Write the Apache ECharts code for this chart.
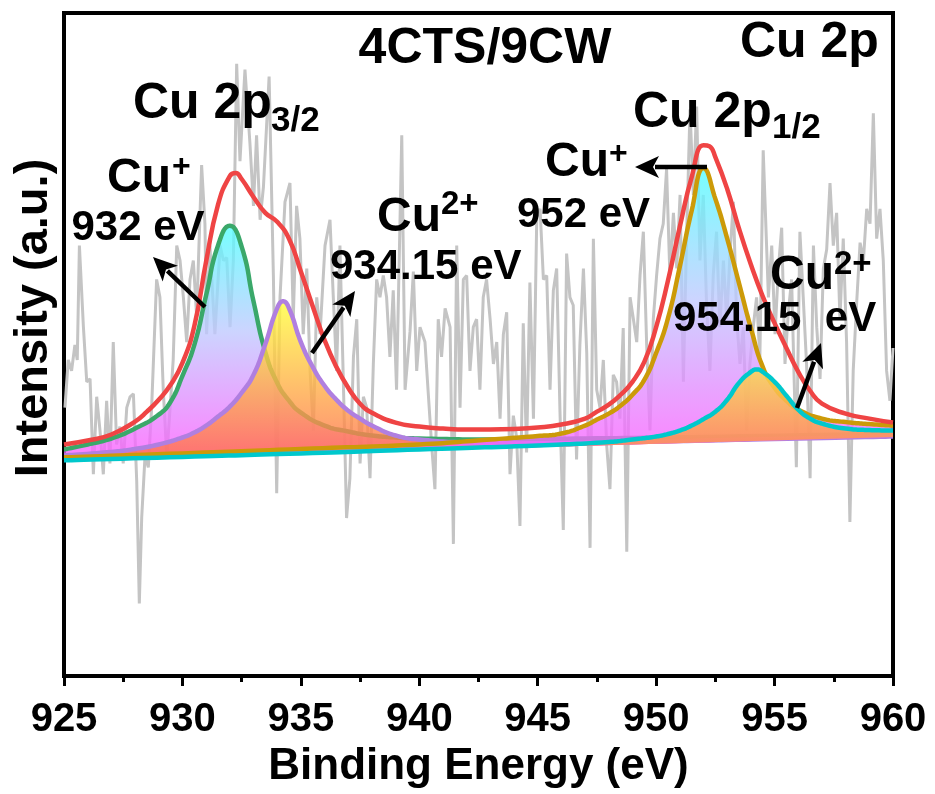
<!DOCTYPE html>
<html>
<head>
<meta charset="utf-8">
<script src="https://cdn.jsdelivr.net/npm/echarts@6/dist/echarts.min.js"></script>
<style>
html,body{margin:0;padding:0;background:#fff;}
#chart{width:935px;height:794px;}
</style>
</head>
<body>
<div id="chart"></div>
<script>
// ---------------- DATA ----------------
// Raw spectrum (grey, noisy)
const rawEnergy = [925.04,925.18,925.32,925.46,925.56,925.65,925.82,925.96,926.10,926.24,926.38,926.52,926.66,926.80,926.94,927.08,927.22,927.36,927.50,927.65,927.79,927.93,928.07,928.18,928.28,928.42,928.56,928.70,928.91,929.05,929.19,929.34,929.48,929.61,929.76,929.90,930.04,930.18,930.32,930.46,930.60,930.81,930.95,931.02,931.16,931.37,931.59,931.73,931.87,932.01,932.15,932.29,932.43,932.64,932.85,933.00,933.13,933.28,933.42,933.66,933.84,933.98,934.12,934.33,934.54,934.68,934.82,934.96,935.10,935.25,935.39,935.53,935.67,935.81,936.02,936.23,936.37,936.51,936.65,936.79,936.93,937.07,937.22,937.36,937.50,937.64,937.78,937.92,938.06,938.20,938.34,938.48,938.62,938.76,938.90,939.04,939.26,939.40,939.61,939.75,939.89,940.03,940.24,940.38,940.52,940.66,940.80,940.94,941.09,941.30,941.44,941.58,941.72,941.86,942.00,942.14,942.28,942.42,942.56,942.70,942.84,942.99,943.13,943.27,943.41,943.55,943.69,943.83,943.97,944.11,944.25,944.39,944.53,944.67,944.82,944.96,945.10,945.24,945.38,945.52,945.66,945.80,945.94,946.08,946.22,946.36,946.50,946.64,946.78,946.93,947.07,947.21,947.35,947.49,947.63,947.77,947.91,948.05,948.19,948.33,948.47,948.61,948.76,948.90,949.04,949.18,949.32,949.46,949.60,949.74,949.88,950.02,950.16,950.30,950.44,950.58,950.73,950.87,951.01,951.15,951.29,951.43,951.57,951.71,951.85,951.99,952.13,952.27,952.41,952.55,952.69,952.84,952.98,953.12,953.26,953.40,953.54,953.68,953.82,953.96,954.10,954.24,954.38,954.52,954.74,954.88,955.02,955.16,955.30,955.44,955.58,955.72,955.92,956.07,956.21,956.35,956.50,956.64,956.78,956.92,957.06,957.20,957.34,957.48,957.62,957.76,957.90,958.04,958.18,958.32,958.46,958.61,958.75,958.89,959.03,959.17,959.31,959.45,959.59,959.73,959.87,960.00];
const rawIntensity = [270,318,307,333,318,433,351,296,299,203,281,247,203,277,214,336,233,251,214,270,281,284,196,73,159,221,210,270,399,381,288,221,270,318,433,418,381,336,399,418,362,514,455,344,433,344,433,418,421,351,418,616,518,610,536,473,544,459,492,603,403,184,381,477,496,359,473,440,344,410,307,247,381,344,433,459,381,307,433,300,159,199,321,359,214,281,270,199,314,399,381,403,381,321,388,288,544,288,347,407,307,351,336,284,233,188,359,321,370,351,133,433,270,399,403,307,351,359,288,381,399,359,314,336,259,344,366,203,262,240,151,355,225,396,259,462,470,399,403,288,388,410,266,147,425,381,373,218,333,410,325,129,440,288,270,318,233,188,303,296,259,350,125,381,359,336,403,447,333,247,359,403,440,455,510,403,466,410,484,296,447,570,484,573,418,484,373,307,403,447,351,418,359,425,477,359,314,351,247,314,351,381,321,529,381,433,344,410,451,314,366,399,210,447,381,314,199,433,351,299,410,429,496,433,466,359,440,336,155,307,373,436,418,470,455,566,440,470,418,307,277,330];

// Cu+ 2p3/2 component (932 eV, green)
const cu1Energy = [925,926,927,928,929,929.5,930,930.5,931,931.5,932,932.5,933,933.5,934,934.5,935,936,937,938,939,940,943,947,952,960];
const cu1Fit    = [228,233,239,249,263,276,302,333,383,433,453,432,377,326,295,277,265,252,246,242,240,239,238,239,240.5,244];

// Cu2+ 2p3/2 component (934.15 eV, purple)
const cu2Energy = [925,927,928,929,930,930.5,931,931.5,932,932.5,933,933.5,934,934.25,934.5,935,935.5,936,936.5,937,937.5,938,939,940,942,945,950,955,960];
const cu2Fit    = [222,225.5,228.5,233,240,245,252,261,271,285,303,334,370,377,370,336,311,292,278,267,259,252,242,238,235,234,236,238.5,241];

// Cu+ 2p1/2 component (952 eV, gold)
const cu3Energy = [925,930,935,940,943,945,946,947,947.5,948,948.5,949,949.5,950,950.5,951,951.5,952,952.5,953,953.5,954,954.5,955,955.5,956,957,958,959,960];
const cu3Fit    = [220,224,228.5,233,238,241.5,244,252,258,264,272,283,298,325,360,412,468,511,480,440,395,350,311,290,277,268,259,255.5,253.5,252];

// Cu2+ 2p1/2 component (954.15 eV, cyan)
const cu4Energy = [925,930,935,940,945,948,949,950,950.5,951,951.5,952,952.5,953,953.5,954,954.25,954.5,955,955.5,956,956.5,957,958,959,960];
const cu4Fit    = [217,220.5,224,228,232,235.5,238,241,243.5,247,252,258.5,266,278,295,306,308.5,306,296,282,268,259,254,249,247.5,247];

// Envelope (sum of fit, red)
const envEnergy = [925,926,927,928,928.5,929,929.5,930,930.5,931,931.5,932,932.25,932.5,933,933.5,934,934.5,935,935.5,936,936.5,937,937.5,938,939,940,941,942,943,944,945,946,947,947.5,948,948.5,949,949.5,950,950.5,951,951.5,952,952.25,952.5,953,953.5,954,954.5,955,955.5,956,956.5,957,958,959,960];
const envFit    = [233,237,243,256,266,278,293,315,352,417,474,503,506,500,482,466,457,440,407,372,338,311,290,274,265,255,251,249,248,248,248.5,250,253,259,266,273,283,296,316,351,398,452,502,534,533,522,490,450,414,382,355,330,306,287,274,264,259,255];

// Linear background used as the lower edge of the filled components
const bgEnergy = [925, 960];
const bgFit    = [216.5, 240.5];

// Axis
const xMin = 925, xMax = 960, xStep = 5;

// ---------------- CHART ----------------
const FONT = "'Liberation Sans', Arial, Helvetica, sans-serif";
const chart = echarts.init(document.getElementById('chart'), null, {renderer: 'canvas'});

function zip(a, b) { return a.map((v, i) => [v, b[i]]); }

// same smoothing rule as ECharts line series (smooth = 0.5)
function smoothPts(p, s) {
  const n = p.length;
  const out = [p[0].slice()];
  let cpx0 = p[0][0], cpy0 = p[0][1];
  for (let k = 1; k < n; k++) {
    const x = p[k][0], y = p[k][1];
    const prevX = p[k-1][0], prevY = p[k-1][1];
    let cpx1, cpy1, nextCpx0, nextCpy0;
    if (k === n - 1) {
      cpx1 = x; cpy1 = y; nextCpx0 = x; nextCpy0 = y;
    } else {
      const nextX = p[k+1][0], nextY = p[k+1][1];
      let vx = nextX - prevX, vy = nextY - prevY;
      const dx0 = x - prevX, dy0 = y - prevY, dx1 = nextX - x, dy1 = nextY - y;
      const l0 = Math.sqrt(dx0*dx0 + dy0*dy0), l1 = Math.sqrt(dx1*dx1 + dy1*dy1);
      const r = l1 / (l1 + l0);
      nextCpx0 = x + vx * s * r; nextCpy0 = y + vy * s * r;
      nextCpx0 = Math.min(nextCpx0, Math.max(nextX, x)); nextCpy0 = Math.min(nextCpy0, Math.max(nextY, y));
      nextCpx0 = Math.max(nextCpx0, Math.min(nextX, x)); nextCpy0 = Math.max(nextCpy0, Math.min(nextY, y));
      vx = nextCpx0 - x; vy = nextCpy0 - y;
      cpx1 = x - vx * l0 / l1; cpy1 = y - vy * l0 / l1;
      cpx1 = Math.min(cpx1, Math.max(prevX, x)); cpy1 = Math.min(cpy1, Math.max(prevY, y));
      cpx1 = Math.max(cpx1, Math.min(prevX, x)); cpy1 = Math.max(cpy1, Math.min(prevY, y));
      vx = x - cpx1; vy = y - cpy1;
      nextCpx0 = x + vx * l1 / l0; nextCpy0 = y + vy * l1 / l0;
    }
    const ax = prevX, ay = prevY;
    for (let j = 1; j <= 14; j++) {
      const t = j / 14, u = 1 - t;
      out.push([
        u*u*u*ax + 3*u*u*t*cpx0 + 3*u*t*t*cpx1 + t*t*t*x,
        u*u*u*ay + 3*u*u*t*cpy0 + 3*u*t*t*cpy1 + t*t*t*y
      ]);
    }
    cpx0 = nextCpx0; cpy0 = nextCpy0;
  }
  return out;
}

function component(name, xs, ys, stroke, stops, z) {
  const pts = zip(xs, ys);
  return {
    type: 'custom', name: name, z: z, silent: true, clip: true,
    data: pts, encode: {x: 0, y: 1},
    renderItem: function (params, api) {
      if (params.dataIndex !== 0) return null;
      const px = pts.map(p => api.coord(p));
      const curve = smoothPts(px, 0.5);
      const b0 = api.coord([bgEnergy[0], bgFit[0]]);
      const b1 = api.coord([bgEnergy[1], bgFit[1]]);
      return {
        type: 'group',
        children: [
          {type: 'polygon', shape: {points: curve.concat([b1, b0])},
           style: {fill: new echarts.graphic.LinearGradient(0, 0, 0, 1, stops), stroke: null}},
          {type: 'polyline', shape: {points: curve},
           style: {stroke: stroke, lineWidth: 4.5, fill: null, lineJoin: 'round', lineCap: 'round'}}
        ]
      };
    }
  };
}

const blueMagenta = [
  {offset: 0, color: 'rgba(80,255,255,0.78)'},
  {offset: 0.45, color: 'rgba(190,200,255,0.78)'},
  {offset: 1, color: 'rgba(255,90,255,0.78)'}
];
const yellowOrange = [
  {offset: 0, color: 'rgba(255,255,60,0.8)'},
  {offset: 1, color: 'rgba(255,105,80,0.8)'}
];
const goldOrange = [
  {offset: 0, color: 'rgba(250,215,80,0.85)'},
  {offset: 1, color: 'rgba(255,130,80,0.85)'}
];

function txt(x, y, text, size, align) {
  return {type: 'text', x: x, y: y, z: 100, silent: true,
    style: {text: text, fill: '#000', font: 'bold ' + size + 'px ' + FONT,
      fontSize: size, fontWeight: 'bold', fontFamily: FONT,
      align: align || 'left', textAlign: align || 'left',
      verticalAlign: 'middle', textVerticalAlign: 'middle'}};
}
function arrow(x1, y1, x2, y2) {
  const a = Math.atan2(y2 - y1, x2 - x1), L = 24, W = 11;
  const bx = x2 - L * Math.cos(a), by = y2 - L * Math.sin(a);
  return [
    {type: 'line', z: 100, silent: true, shape: {x1: x1, y1: y1, x2: bx + 4*Math.cos(a), y2: by + 4*Math.sin(a)},
     style: {stroke: '#000', lineWidth: 4.5}},
    {type: 'polygon', z: 100, silent: true,
     shape: {points: [[x2, y2], [bx - W*Math.sin(a), by + W*Math.cos(a)], [bx + 6*Math.cos(a), by + 6*Math.sin(a)], [bx + W*Math.sin(a), by - W*Math.cos(a)]]},
     style: {fill: '#000', stroke: null}}
  ];
}

const graphics = [
  txt(485, 49, '4CTS/9CW', 50, 'center'),
  txt(740, 43, 'Cu 2p', 50),
  txt(133, 104, 'Cu 2p', 50), txt(271, 121, '3/2', 35),
  txt(633, 113, 'Cu 2p', 50), txt(772, 128, '1/2', 35),
  txt(107, 179, 'Cu', 48), txt(172, 167, '+', 32),
  txt(138, 228, '932 eV', 42, 'center'),
  txt(377, 218, 'Cu', 48), txt(441, 205, '2+', 33),
  txt(330, 267, '934.15 eV', 42),
  txt(545, 163, 'Cu', 48), txt(609, 154, '+', 32),
  txt(517, 215, '952 eV', 42),
  txt(770, 276, 'Cu', 48), txt(834, 265, '2+', 33),
  txt(673, 319, '954.15  eV', 42),
  {type: 'text', x: 34, y: 318, rotation: Math.PI / 2, z: 100, silent: true,
   style: {text: 'Intensity (a.u.)', fill: '#000', font: 'bold 47px ' + FONT,
     align: 'center', textAlign: 'center', verticalAlign: 'middle', textVerticalAlign: 'middle'}}
].concat(arrow(205, 307, 153, 257), arrow(312, 353, 355, 291), arrow(707, 167, 635, 167), arrow(797, 408, 821, 343));

const option = {
  animation: false,
  backgroundColor: '#fff',
  grid: {left: 64, right: 42, top: 13, bottom: 114, show: true, borderColor: '#000', borderWidth: 4, backgroundColor: 'transparent'},
  xAxis: {
    type: 'value', min: xMin, max: xMax, interval: xStep,
    axisLine: {show: true, onZero: false, lineStyle: {color: '#000', width: 4}},
    axisTick: {show: true, inside: false, length: 10, lineStyle: {color: '#000', width: 3}},
    minorTick: {show: true, splitNumber: 2, length: 6, lineStyle: {color: '#000', width: 3}},
    axisLabel: {show: true, showMinLabel: true, showMaxLabel: true, margin: 24, color: '#000', fontSize: 40, fontWeight: 'bold', fontFamily: FONT},
    splitLine: {show: false},
    name: 'Binding Energy (eV)', nameLocation: 'middle', nameGap: 63,
    nameTextStyle: {color: '#000', fontSize: 44, fontWeight: 'bold', fontFamily: FONT}
  },
  yAxis: {
    type: 'value', min: 0, max: 667,
    axisLine: {show: true, onZero: false, lineStyle: {color: '#000', width: 4}},
    axisTick: {show: false}, axisLabel: {show: false}, splitLine: {show: false}
  },
  series: [
    {type: 'line', name: 'Raw', data: zip(rawEnergy, rawIntensity), showSymbol: false, symbol: 'none',
     lineStyle: {color: '#c4c4c4', width: 3}, z: 1, silent: true, clip: true},
    component('Cu+ 932', cu1Energy, cu1Fit, '#3aa86a', blueMagenta, 2),
    component('Cu2+ 934.15', cu2Energy, cu2Fit, '#b07fe0', yellowOrange, 3),
    component('Cu+ 952', cu3Energy, cu3Fit, '#cc9a08', blueMagenta, 4),
    component('Cu2+ 954.15', cu4Energy, cu4Fit, '#00c8cc', goldOrange, 5),
    {type: 'line', name: 'Envelope', data: zip(envEnergy, envFit), smooth: true, showSymbol: false, symbol: 'none',
     lineStyle: {color: '#ef4444', width: 4.5}, z: 6, silent: true, clip: true}
  ],
  graphic: graphics
};
chart.setOption(option);
</script>
</body>
</html>
